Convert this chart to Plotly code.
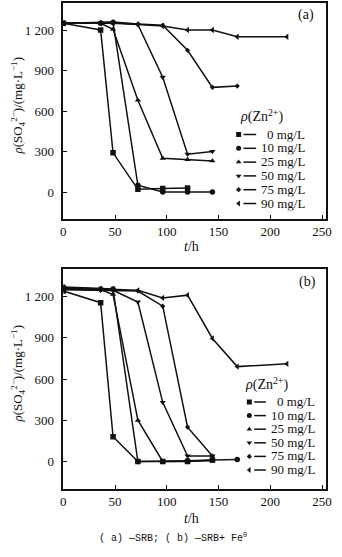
import plotly.graph_objects as go

# Zn2+ dosages and their marker symbols
zn_labels = ["0 mg/L", "10 mg/L", "25 mg/L", "50 mg/L", "75 mg/L", "90 mg/L"]
zn_symbols = ["square", "circle", "triangle-up", "triangle-down", "diamond", "triangle-left"]

# (a) SRB only: sampling time (h) and sulfate concentration (mg/L)
t_a_0 = [0, 36, 48, 72, 96, 120]
so4_a_0 = [1250, 1200, 290, 20, 25, 30]
t_a_10 = [0, 36, 48, 72, 96, 120, 144]
so4_a_10 = [1250, 1250, 1255, 50, 0, 0, 0]
t_a_25 = [0, 36, 48, 72, 96, 120, 144]
so4_a_25 = [1250, 1250, 1205, 680, 250, 240, 230]
t_a_50 = [0, 36, 48, 72, 96, 120, 144]
so4_a_50 = [1250, 1250, 1250, 1240, 850, 280, 300]
t_a_75 = [0, 36, 48, 72, 96, 120, 144, 168]
so4_a_75 = [1250, 1255, 1260, 1245, 1235, 1050, 775, 785]
t_a_90 = [0, 36, 48, 72, 96, 120, 144, 168, 216]
so4_a_90 = [1250, 1250, 1255, 1240, 1230, 1200, 1200, 1150, 1150]

# (b) SRB + Fe0
t_b_0 = [0, 36, 48, 72, 96, 120, 144]
so4_b_0 = [1240, 1155, 180, 0, 0, 0, 10]
t_b_10 = [0, 36, 48, 72, 96, 120, 144, 168]
so4_b_10 = [1270, 1255, 1255, 0, 0, 5, 10, 15]
t_b_25 = [0, 36, 48, 72, 96, 120, 144]
so4_b_25 = [1260, 1250, 1215, 300, 0, 0, 5]
t_b_50 = [0, 36, 48, 72, 96, 120, 144]
so4_b_50 = [1255, 1250, 1245, 1160, 430, 40, 40]
t_b_75 = [0, 36, 48, 72, 96, 120, 144]
so4_b_75 = [1250, 1245, 1245, 1240, 1130, 250, 40]
t_b_90 = [0, 36, 48, 72, 96, 120, 144, 168, 216]
so4_b_90 = [1265, 1255, 1255, 1245, 1190, 1210, 895, 690, 710]

x_ticks = [0, 50, 100, 150, 200, 250]
y_ticks = [0, 300, 600, 900, 1200]
y_ticktext = ["0", "300", "600", "900", "1 200"]

W, H = 342, 557
INK = "#111111"
SERIF = "Liberation Serif, Times New Roman, serif"

panel_a = [(t_a_0, so4_a_0), (t_a_10, so4_a_10), (t_a_25, so4_a_25),
           (t_a_50, so4_a_50), (t_a_75, so4_a_75), (t_a_90, so4_a_90)]
panel_b = [(t_b_0, so4_b_0), (t_b_10, so4_b_10), (t_b_25, so4_b_25),
           (t_b_50, so4_b_50), (t_b_75, so4_b_75), (t_b_90, so4_b_90)]


def px(x):
    return x / W


def py(y):
    return 1 - y / H


fig = go.Figure()

for (xa, ya), panel in (("x", "y"), panel_a), (("x2", "y2"), panel_b):
    for (t, v), sym in zip(panel, zn_symbols):
        size = 4 if sym == "diamond" else 5.5
        fig.add_trace(go.Scatter(
            x=t, y=v, xaxis=xa, yaxis=ya, mode="lines+markers",
            line=dict(color=INK, width=1.5),
            marker=dict(symbol=sym, size=size, color=INK),
            showlegend=False, hoverinfo="skip"))

axis_common = dict(
    showgrid=False, zeroline=False, showline=True, mirror=True,
    linecolor=INK, linewidth=1.5, ticks="inside", ticklen=4, tickwidth=1.2,
    tickcolor=INK, tickfont=dict(family=SERIF, size=13, color=INK),
)

x_dom = [px(62), px(332)]
fig.update_layout(
    width=W, height=H, margin=dict(l=0, r=0, t=0, b=0),
    paper_bgcolor="white", plot_bgcolor="rgba(0,0,0,0)",
    xaxis=dict(axis_common, domain=x_dom, range=[0, 254], tickvals=x_ticks,
               anchor="y"),
    yaxis=dict(axis_common, domain=[py(219), py(3)], range=[-200, 1400],
               tickvals=y_ticks, ticktext=y_ticktext, anchor="x",
               ticklabelstandoff=5),
    xaxis2=dict(axis_common, domain=x_dom, range=[0, 254], tickvals=x_ticks,
                anchor="y2"),
    yaxis2=dict(axis_common, domain=[py(489), py(269)], range=[-200, 1400],
                tickvals=y_ticks, ticktext=y_ticktext, anchor="x2",
                ticklabelstandoff=5),
    # pixel-space overlay used for the hand-built keys
    xaxis3=dict(domain=[0, 1], range=[0, W], visible=False, anchor="y3",
                fixedrange=True),
    yaxis3=dict(domain=[0, 1], range=[H, 0], visible=False, anchor="x3",
                fixedrange=True),
)

annotations = []


def text(x, y, s, size=14, angle=0, xanchor="center", family=SERIF, box_h=None):
    ann = dict(
        x=px(x), y=py(y), xref="paper", yref="paper", text=s, showarrow=False,
        xanchor=xanchor, yanchor="middle", textangle=angle,
        font=dict(family=family, size=size, color=INK))
    if box_h is not None:
        ann["height"] = box_h
    annotations.append(ann)


ylab = "<i>ρ</i>(SO<sub>4</sub><sup>2−</sup>)/(mg·L<sup>−1</sup>)"
text(15, 106, ylab, size=13, angle=-90)
text(15, 374, ylab, size=13, angle=-90)
text(194, 247, "<i>t</i>/h", size=14)
text(194, 518, "<i>t</i>/h", size=14)
text(311, 15, "(a)", size=14)
text(313, 282, "(b)", size=14)
text(175, 537, "( a) —SRB; ( b) —SRB+ Fe<sup>0</sup>", size=10,
     family="Liberation Mono, monospace")

# dosage keys drawn inside each panel
key_specs = [
    dict(title_x=265, title_y=116, mk_x=242, l0=247, l1=260, tx=312, y0=134.5, dy=13.8),
    dict(title_x=271, title_y=384, mk_x=253, l0=258, l1=270, tx=322, y0=402, dy=13.6),
]
for k in key_specs:
    text(k["title_x"], k["title_y"], "<i>ρ</i>(Zn<sup>2+</sup>)", size=14, box_h=18)
    for i, (lab, sym) in enumerate(zip(zn_labels, zn_symbols)):
        yy = k["y0"] + i * k["dy"]
        fig.add_trace(go.Scatter(
            x=[k["l0"], k["l1"]], y=[yy, yy], xaxis="x3", yaxis="y3",
            mode="lines", line=dict(color=INK, width=1.5),
            showlegend=False, hoverinfo="skip"))
        fig.add_trace(go.Scatter(
            x=[k["mk_x"]], y=[yy], xaxis="x3", yaxis="y3", mode="markers",
            marker=dict(symbol=sym, size=4 if sym == "diamond" else 5, color=INK),
            showlegend=False, hoverinfo="skip"))
        text(k["tx"], yy, lab, size=13, xanchor="right", box_h=13.5)

fig.update_layout(annotations=annotations)
fig.write_html("out.html")
